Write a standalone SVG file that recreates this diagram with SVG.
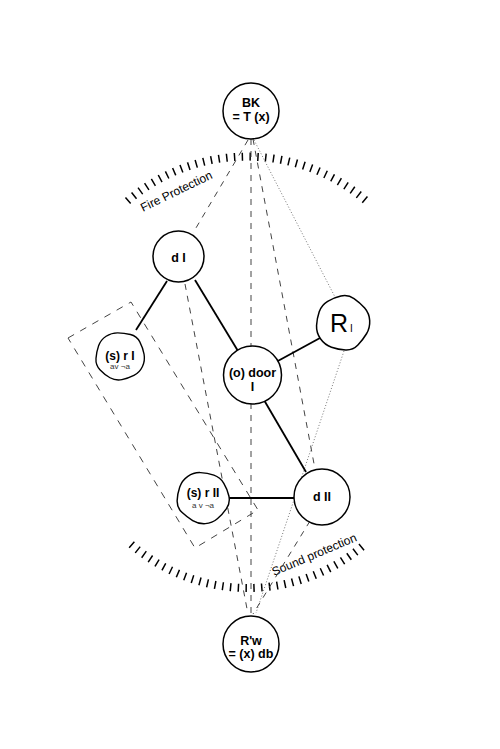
<svg xmlns="http://www.w3.org/2000/svg" width="500" height="749" viewBox="0 0 500 749">
<style>
.bg{fill:#fff}
.node{fill:#fff;stroke:#000;stroke-width:1.5}
.lbl{font-family:"Liberation Sans",Arial,sans-serif;font-weight:bold;font-size:12.5px;text-anchor:middle;fill:#000}
.sub{font-family:"Liberation Sans",Arial,sans-serif;font-size:8px;text-anchor:middle;fill:#333}
.solid{stroke:#000;stroke-width:1.8;fill:none}
.dash{stroke:#444;stroke-width:1;stroke-dasharray:6 6;fill:none}
.dot{stroke:#777;stroke-width:1;stroke-dasharray:1 2;fill:none}
.rect{stroke:#444;stroke-width:1;stroke-dasharray:7 7;fill:none}
.ticks{stroke:#000;stroke-width:8;stroke-dasharray:1.5 6.3;fill:none}
.arclbl{font-family:"Liberation Sans",Arial,sans-serif;font-size:12px;fill:#000}
</style>
<defs>
<path id="blob" d="M26.59,-7.13 Q28.5,0 25.73,6.63 Q22.95,13.25 18.48,18.75 Q14,24.25 7,25.63 Q0,27 -7.25,26.06 Q-14.5,25.11 -18.73,19.18 Q-22.95,13.25 -25.48,6.63 Q-28,0 -25.91,-6.88 Q-23.82,-13.75 -18.41,-18.14 Q-13,-22.52 -6.5,-25.76 Q0,-29 6.75,-26.19 Q13.5,-23.38 19.09,-18.82 Q24.68,-14.25 26.59,-7.13 Z"/>
</defs>
<rect class="bg" x="0" y="0" width="500" height="749"/>

<g id="zones">
<path class="ticks" d="M127.5,201 A183,183 0 0 1 366.5,201"/>
<path class="ticks" d="M131.2,544.3 A178,178 0 0 0 364.8,544.3"/>
<text class="arclbl" transform="translate(143,212) rotate(-26)">Fire Protection</text>
<text class="arclbl" transform="translate(274,576) rotate(-23)">Sound protection</text>
</g>

<g id="connectors">
<polygon class="rect" points="68,338 131,302 258,510 195,548"/>
<line class="dash" x1="248" y1="140" x2="193" y2="233"/>
<line class="dash" x1="251" y1="139" x2="251" y2="616"/>
<line class="dash" x1="253" y1="139" x2="315" y2="469"/>
<line class="dot" x1="254" y1="140" x2="335" y2="297"/>
<line class="dot" x1="344" y1="351" x2="256" y2="613"/>
<line class="dash" x1="185" y1="284" x2="248" y2="614"/>
<line class="dash" x1="310" y1="521" x2="253" y2="614"/>
<line class="solid" x1="167" y1="281" x2="136" y2="330"/>
<line class="solid" x1="195" y1="280" x2="238" y2="351"/>
<line class="solid" x1="276" y1="362" x2="320" y2="338"/>
<line class="solid" x1="264" y1="400" x2="306" y2="472"/>
<line class="solid" x1="229" y1="498" x2="294" y2="498"/>
</g>

<g id="node-bk">
<circle class="node" cx="251" cy="111" r="28"/>
<text class="lbl" x="251" y="107">BK</text>
<text class="lbl" x="251" y="121">= T (x)</text>
</g>

<g id="node-dI">
<circle class="node" cx="178.5" cy="256.5" r="25.5"/>
<text class="lbl" x="178.5" y="262">d I</text>
</g>

<g id="node-rI">
<use href="#blob" class="node" transform="translate(120,356) scale(0.9) rotate(40)"/>
<text class="lbl" x="120" y="360" style="font-size:12px">(s) r I</text>
<text class="sub" x="120" y="369">av ¬a</text>
</g>

<g id="node-doorI">
<circle class="node" cx="252.5" cy="375" r="29"/>
<text class="lbl" x="252.5" y="377">(o) door</text>
<text class="lbl" x="252.5" y="391">I</text>
</g>

<g id="node-RI">
<use href="#blob" class="node" transform="translate(343,323) rotate(160)"/>
<text x="339" y="332" style="font-family:'Liberation Sans',Arial,sans-serif;font-size:25px;text-anchor:middle">R</text>
<text x="350" y="332" style="font-family:'Liberation Sans',Arial,sans-serif;font-size:10px">I</text>
</g>

<g id="node-rII">
<use href="#blob" class="node" transform="translate(203,498) scale(0.96) rotate(250)"/>
<text class="lbl" x="203" y="497" style="font-size:12px">(s) r II</text>
<text class="sub" x="203" y="508">a v ¬a</text>
</g>

<g id="node-dII">
<circle class="node" cx="322" cy="497" r="28"/>
<text class="lbl" x="322" y="501">d II</text>
</g>

<g id="node-Rw">
<circle class="node" cx="251" cy="644" r="28"/>
<text class="lbl" x="251" y="645">R'w</text>
<text class="lbl" x="251" y="658">= (x) db</text>
</g>
</svg>
